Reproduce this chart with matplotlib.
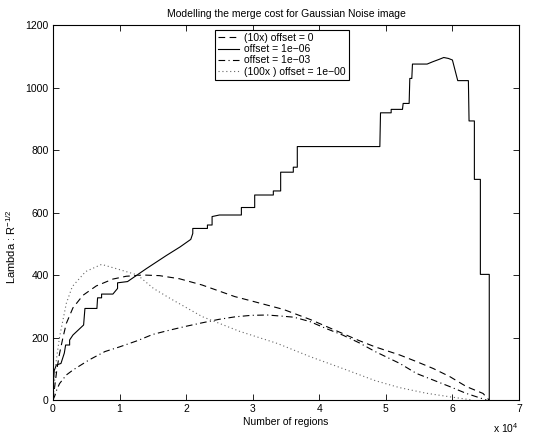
"""
merge_cost_plot.py

Modelling the merge cost for a Gaussian noise image (values read off the figure).
"""
import matplotlib
matplotlib.use("Agg")
import matplotlib.pyplot as plt

# x in units of 1e4 regions
solid_x = [0, 0.005, 0.01, 0.02, 0.03, 0.05, 0.12, 0.17, 0.19, 0.25, 0.25, 0.30, 0.46, 0.48,
           0.66, 0.67, 0.73, 0.73, 0.90, 0.97, 0.97, 1.12, 1.40, 1.70, 1.91, 2.07, 2.10, 2.10,
           2.32, 2.32, 2.39, 2.39, 2.50, 2.83, 2.83, 3.03, 3.03, 3.31, 3.31, 3.42, 3.42, 3.61,
           3.61, 3.67, 3.67, 4.91, 4.92, 5.08, 5.08, 5.25, 5.26, 5.35, 5.36, 5.39, 5.40, 5.62,
           5.70, 5.80, 5.87, 5.94, 6.00, 6.08, 6.24, 6.25, 6.33, 6.33, 6.42, 6.42, 6.5536, 6.5536]
solid_y = [0, 40, 70, 96, 100, 112, 117, 150, 176, 176, 192, 208, 240, 293,
           293, 327, 327, 339, 339, 357, 375, 379, 420, 462, 490, 514, 533, 549,
           549, 560, 560, 587, 592, 592, 616, 616, 656, 656, 669, 669, 729, 729,
           745, 745, 811, 811, 919, 919, 930, 930, 949, 949, 1029, 1029, 1075, 1075,
           1082, 1090, 1096, 1093, 1088, 1022, 1022, 893, 893, 706, 706, 402, 402, 0]

dashed_x = [0, 0.03, 0.06, 0.10, 0.15, 0.20, 0.30, 0.45, 0.65, 0.90, 1.10, 1.35, 1.60, 1.90,
            2.24, 2.73, 3.00, 3.46, 3.86, 4.35, 4.60, 4.84, 5.21, 5.46, 5.71, 5.96, 6.21,
            6.46, 6.55]
dashed_y = [0, 50, 100, 150, 200, 245, 295, 335, 365, 387, 396, 400, 398, 388,
            368, 331, 316, 290, 258, 213, 190, 170, 144, 123, 101, 75, 43,
            21, 0]

dashdot_x = [0, 0.03, 0.06, 0.10, 0.20, 0.30, 0.54, 0.78, 1.00, 1.27, 1.50, 1.76, 2.00, 2.24,
             2.49, 2.73, 2.98, 3.22, 3.46, 3.62, 3.86, 4.10, 4.35, 4.60, 4.84, 5.21, 5.46,
             5.71, 5.96, 6.21, 6.51]
dashdot_y = [0, 15, 35, 53, 80, 96, 128, 155, 170, 190, 210, 224, 236, 247,
             258, 266, 271, 272, 268, 265, 251, 229, 208, 183, 155, 117, 85,
             64, 43, 21, 0]

dotted_x = [0, 0.05, 0.10, 0.20, 0.29, 0.49, 0.73, 1.02, 1.27, 1.51, 1.76, 2.24, 2.80, 3.37,
            3.86, 4.35, 4.84, 5.20, 5.60, 6.00, 6.30]
dotted_y = [0, 128, 203, 309, 363, 411, 434, 416, 400, 357, 325, 267, 220, 181,
            139, 101, 62, 40, 22, 9, 0]

labels = ["(10x) offset = 0", "offset = 1e\u221206", "offset = 1e\u221203",
          "(100x ) offset = 1e\u221200"]
x_ticks = [0, 1, 2, 3, 4, 5, 6, 7]
y_ticks = [0, 200, 400, 600, 800, 1000, 1200]

plt.rcParams["font.family"] = ["Liberation Sans", "DejaVu Sans"]
plt.rcParams["font.size"] = 7.5
plt.rcParams["mathtext.default"] = "regular"

fig = plt.figure(figsize=(5.33, 4.34), dpi=100)
ax = fig.add_axes([0.0994, 0.0783, 0.8743, 0.8641])

ax.plot(dashed_x, dashed_y, color="black", lw=0.8, linestyle=(0, (6, 4)), label=labels[0])
ax.plot(solid_x, solid_y, color="black", lw=0.8, linestyle="-", label=labels[1])
ax.plot(dashdot_x, dashdot_y, color="black", lw=0.8, linestyle=(0, (6, 3, 1, 3)), label=labels[2])
ax.plot(dotted_x, dotted_y, color="#666666", lw=0.8, linestyle=(0, (1, 2.5)), label=labels[3])

ax.set_xlim(0, 7)
ax.set_ylim(0, 1200)
ax.set_xticks(x_ticks)
ax.set_yticks(y_ticks)
ax.tick_params(direction="in", top=True, right=True, length=4, width=0.6, pad=3)
for s in ax.spines.values():
    s.set_linewidth(0.8)

ax.set_title("Modelling the merge cost for Gaussian Noise image", fontsize=7.5, pad=6)
ax.set_xlabel("Number of regions", labelpad=2)
ax.set_ylabel("Lambda : R$^{-1/2}$", fontsize=8)
ax.yaxis.set_label_coords(-0.075, 0.41)
ax.text(1.0, -0.075, "x 10$^4$", transform=ax.transAxes, ha="right", va="center")

leg = ax.legend(loc="upper center", bbox_to_anchor=(0.491, 0.987), fancybox=False,
                edgecolor="black", framealpha=1, handlelength=2.0, handletextpad=0.5,
                labelspacing=0.12, borderpad=0.3, borderaxespad=0)
leg.get_frame().set_linewidth(0.8)

fig.savefig("out.png", dpi=100)
